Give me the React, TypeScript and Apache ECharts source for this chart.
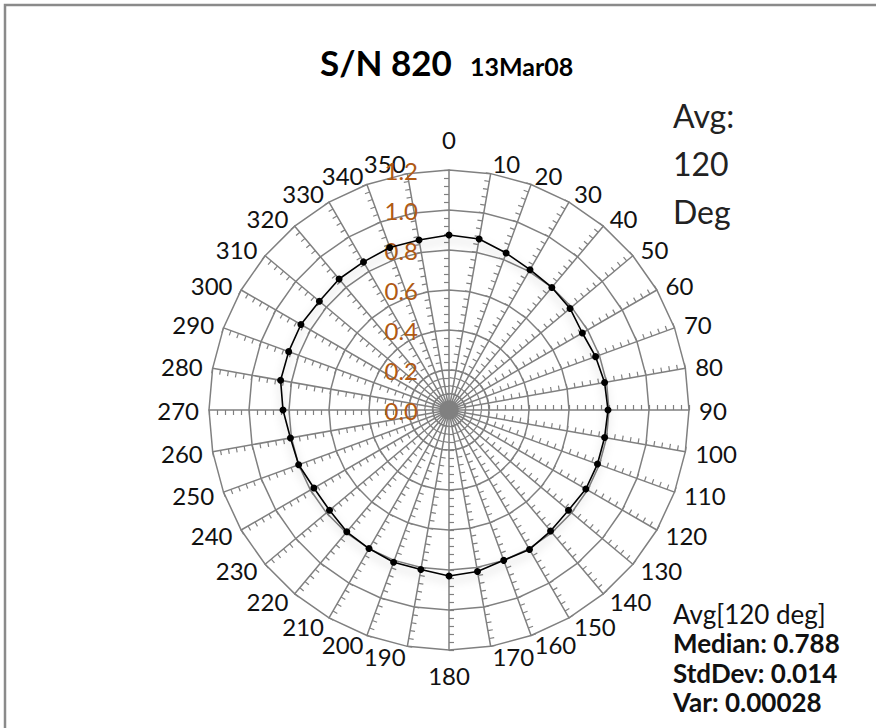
import React, { useEffect, useRef } from "react";
import * as echarts from "echarts";

// ---- data ----
const angleLabels = [
  "0", "10", "20", "30", "40", "50", "60", "70", "80", "90", "100", "110",
  "120", "130", "140", "150", "160", "170", "180", "190", "200", "210", "220", "230",
  "240", "250", "260", "270", "280", "290", "300", "310", "320", "330", "340", "350",
];
const responseValues = [
  0.875, 0.868, 0.835, 0.81, 0.8, 0.79, 0.77, 0.78, 0.79, 0.795, 0.79, 0.79,
  0.79, 0.78, 0.79, 0.805, 0.8, 0.82, 0.83, 0.81, 0.81, 0.8, 0.795, 0.78,
  0.78, 0.8, 0.805, 0.83, 0.855, 0.853, 0.855, 0.846, 0.855, 0.855, 0.865, 0.863,
];
const radialTickLabels = ["0.0", "0.2", "0.4", "0.6", "0.8", "1.0", "1.2"];
const radialMax = 1.2;
const radialMajorStep = 0.2;
const minorTicksPerMajor = 5;

const titleMain = "S/N 820";
const titleSub = "13Mar08";
const avgLines = ["Avg:", "120", "Deg"];
const statsLines = ["Avg[120 deg]", "Median: 0.788", "StdDev: 0.014", "Var: 0.00028"];

// ---- styles ----
const FONT = 'Lato, "Open Sans", sans-serif';
const GRID = "#808080";
const BROWN = "#B05A14";
const CX = 449;
const CY = 410;
const R = 240;

export default function App() {
  const ref = useRef<HTMLDivElement>(null);

  useEffect(() => {
    document.body.style.margin = "0";
    if (!ref.current) return;
    const chart = echarts.init(ref.current, undefined, { renderer: "svg" });

    const n = angleLabels.length;
    // ECharts radar lays indicators out counter-clockwise; reverse so the angles run clockwise
    const order = angleLabels.map((_, i) => (n - i) % n);

    const majorSplits = Math.round(radialMax / radialMajorStep);

    const indicators1 = order.map((i) => {
      const ind: any = { name: angleLabels[i], min: 0, max: radialMax };
      if (angleLabels[i] === "0") {
        ind.nameGap = 19;
        ind.axisLabel = {
          show: true,
          color: BROWN,
          fontSize: 24,
          fontFamily: FONT,
          margin: 31,
          formatter: (v: number) => radialTickLabels[Math.round(v / radialMajorStep)] ?? "",
        };
      }
      if (angleLabels[i] === "180") ind.nameGap = 13;
      return ind;
    });
    const indicators2 = order.map((i) => ({ name: angleLabels[i], min: 0, max: radialMax }));
    const seriesValues = order.map((i) => responseValues[i]);

    const option: any = {
      animation: false,
      radar: [
        {
          center: [CX, CY],
          radius: R,
          startAngle: 90,
          shape: "polygon",
          splitNumber: majorSplits,
          indicator: indicators1,
          axisName: { color: "#111", fontSize: 24, fontFamily: FONT },
          axisNameGap: 10,
          splitLine: { show: true, lineStyle: { color: GRID, width: 1.5 } },
          splitArea: { show: false },
          axisLine: { show: true, lineStyle: { color: GRID, width: 1.5 } },
          axisTick: { show: false },
          axisLabel: { show: false },
          silent: true,
        },
        {
          center: [CX, CY],
          radius: R,
          startAngle: 90,
          shape: "polygon",
          splitNumber: majorSplits * minorTicksPerMajor,
          indicator: indicators2,
          axisName: { show: false },
          splitLine: { show: false },
          splitArea: { show: false },
          axisLine: { show: false },
          axisTick: { show: true, inside: true, length: 5, lineStyle: { color: GRID, width: 1.2 } },
          axisLabel: { show: false },
          silent: true,
        },
      ],
      series: [
        {
          type: "radar",
          radarIndex: 0,
          symbol: "circle",
          symbolSize: 7,
          silent: true,
          z: 5,
          lineStyle: {
            color: "#000",
            width: 1.6,
            shadowBlur: 10,
            shadowColor: "rgba(0,0,0,0.28)",
            shadowOffsetY: 5,
          },
          itemStyle: { color: "#000" },
          data: [{ value: seriesValues, name: titleMain }],
        },
      ],
      graphic: [
        {
          type: "rect",
          silent: true,
          z: -100,
          shape: { x: 5, y: 5, width: 1000, height: 1000 },
          style: { fill: "none", stroke: "#8a8a8a", lineWidth: 2.5 },
        },
        {
          type: "circle",
          silent: true,
          shape: { cx: CX, cy: CY, r: 8 },
          style: { fill: "#8c8c8c" },
        },
        {
          type: "text",
          x: 320,
          y: 61.5,
          style: {
            text: titleMain,
            font: `bold 35px ${FONT}`,
            fill: "#000",
            verticalAlign: "middle",
            align: "left",
          },
        },
        {
          type: "text",
          x: 470,
          y: 66,
          style: {
            text: titleSub,
            font: `bold 25px ${FONT}`,
            fill: "#000",
            verticalAlign: "middle",
            align: "left",
          },
        },
        ...avgLines.map((t, k) => ({
          type: "text",
          x: 673,
          y: 115 + k * 48,
          style: {
            text: t,
            font: `32px ${FONT}`,
            fill: "#222",
            verticalAlign: "middle",
            align: "left",
          },
        })),
        ...statsLines.map((t, k) => ({
          type: "text",
          x: 673,
          y: 613.5 + k * 29.5,
          style: {
            text: t,
            font: `${k === 0 ? "normal" : "bold"} 26px ${FONT}`,
            fill: "#111",
            verticalAlign: "middle",
            align: "left",
          },
        })),
      ],
    };

    chart.setOption(option);
    return () => chart.dispose();
  }, []);

  return <div ref={ref} style={{ width: 876, height: 728 }} />;
}
